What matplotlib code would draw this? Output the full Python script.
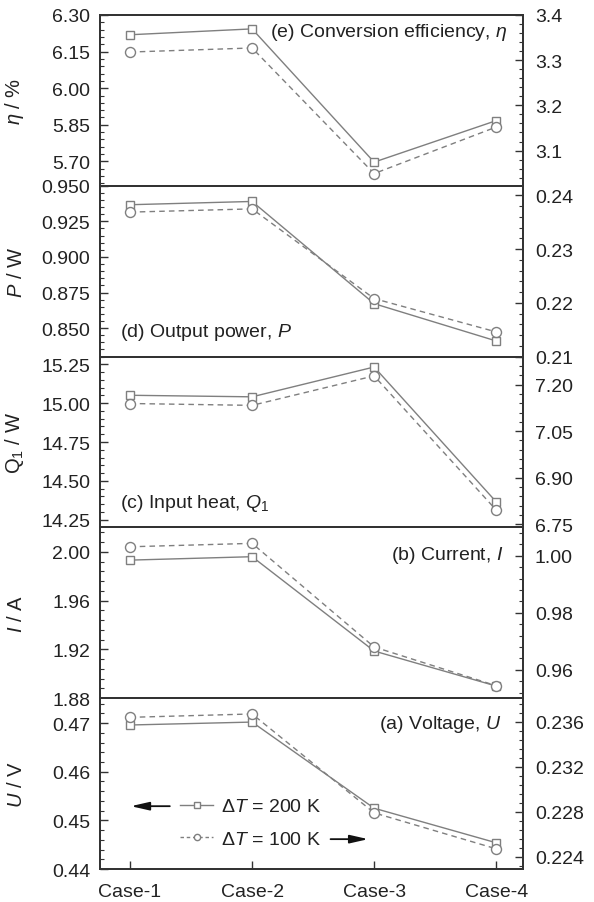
import numpy as np
import matplotlib
matplotlib.use("Agg")
import matplotlib.pyplot as plt
from matplotlib.ticker import MultipleLocator, AutoMinorLocator, FormatStrFormatter
from matplotlib.lines import Line2D

plt.rcParams['font.family'] = ['Liberation Sans', 'DejaVu Sans']
plt.rcParams['mathtext.fontset'] = 'custom'
plt.rcParams['mathtext.rm'] = 'Liberation Sans'
plt.rcParams['mathtext.it'] = 'Liberation Sans:italic'

cases = ["Case-1", "Case-2", "Case-3", "Case-4"]

# dT = 200 K (left axis) and dT = 100 K (right axis)
eta_200 = [6.219, 6.243, 5.697, 5.867]
eta_100 = [3.318, 3.327, 3.049, 3.152]
P_200 = [0.9367, 0.939, 0.8672, 0.841]
P_100 = [0.2369, 0.2375, 0.2208, 0.2146]
Q_200 = [15.051, 15.041, 15.233, 14.365]
Q_100 = [7.139, 7.133, 7.228, 6.796]
I_200 = [1.9932, 1.996, 1.9187, 1.890]
I_100 = [1.0032, 1.0044, 0.968, 0.9544]
U_200 = [0.4696, 0.4702, 0.4525, 0.4454]
U_100 = [0.2364, 0.2367, 0.2279, 0.2247]

panels = [
    dict(l=eta_200, r=eta_100, ylab=r"$\eta$ / %", ll=(5.6, 6.3), rl=(3.022, 3.4),
         lt=0.15, rt=0.1, lf="%.2f", rf="%.1f",
         txt=r"(e) Conversion efficiency, $\eta$", tx=0.962, ty=0.906, ha="right"),
    dict(l=P_200, r=P_100, ylab=r"$P$ / W", ll=(0.83, 0.95), rl=(0.21, 0.2418),
         lt=0.025, rt=0.01, lf="%.3f", rf="%.2f",
         txt=r"(d) Output power, $P$", tx=0.047, ty=0.146, ha="left"),
    dict(l=Q_200, r=Q_100, ylab=r"Q$_1$ / W", ll=(14.2, 15.3), rl=(6.74, 7.29),
         lt=0.25, rt=0.15, lf="%.2f", rf="%.2f",
         txt=r"(c) Input heat, $Q_1$", tx=0.047, ty=0.146, ha="left"),
    dict(l=I_200, r=I_100, ylab=r"$I$ / A", ll=(1.88, 2.02), rl=(0.95, 1.01),
         lt=0.04, rt=0.02, lf="%.2f", rf="%.2f",
         txt=r"(b) Current, $I$", tx=0.953, ty=0.842, ha="right"),
    dict(l=U_200, r=U_100, ylab=r"$U$ / V", ll=(0.44, 0.4751), rl=(0.2229, 0.2381),
         lt=0.01, rt=0.004, lf="%.2f", rf="%.3f",
         txt=r"(a) Voltage, $U$", tx=0.950, ty=0.854, ha="right"),
]

line_c = "#7f7f7f"
spine_c = "#333333"
txt_c = "#222222"
fs = 14

fig, axes = plt.subplots(5, 1, figsize=(5.94, 9.03), dpi=100, sharex=True,
                         gridspec_kw=dict(hspace=0))
fig.subplots_adjust(left=0.1684, right=0.8805, top=0.9823, bottom=0.0365)

x = np.arange(1, 5)

for ax, p in zip(axes, panels):
    ax2 = ax.twinx()
    ax.plot(x, p["l"], "-", color=line_c, lw=1.0, marker="s", ms=6.3,
            mfc="white", mec=line_c, mew=1.0, zorder=3)
    ax2.plot(x, p["r"], "--", color=line_c, lw=1.0, marker="o", ms=7.2,
             mfc="white", mec=line_c, mew=1.0, dashes=(4, 3), zorder=3)
    ax.set_ylim(*p["ll"])
    ax2.set_ylim(*p["rl"])
    ax.set_xlim(0.754, 4.22)
    for a, step, f, pad in ((ax, p["lt"], p["lf"], 7), (ax2, p["rt"], p["rf"], 8.5)):
        a.yaxis.set_major_locator(MultipleLocator(step))
        a.yaxis.set_minor_locator(AutoMinorLocator(5))
        a.yaxis.set_major_formatter(FormatStrFormatter(f))
        a.tick_params(axis="y", which="major", direction="in", length=6,
                      width=1.0, color=spine_c, labelsize=fs, labelcolor=txt_c, pad=pad)
        a.tick_params(axis="y", which="minor", direction="in", length=3,
                      width=0.8, color=spine_c)
        for s in a.spines.values():
            s.set_color(spine_c)
            s.set_linewidth(1.3)
    ax.set_ylabel(p["ylab"], fontsize=fs + 0.5, color=txt_c)
    ax.yaxis.set_label_coords(-0.175, 0.5)
    ax.text(p["tx"], p["ty"], p["txt"], transform=ax.transAxes, ha=p["ha"],
            va="center", fontsize=fs, color=txt_c)
    ax.tick_params(axis="x", which="both", bottom=False, top=False)

axb = axes[-1]
axb.set_xticks(x)
axb.set_xticklabels(cases)
axb.tick_params(axis="x", which="major", bottom=True, direction="in", length=6,
                width=1.0, color=spine_c, labelsize=fs, labelcolor=txt_c, pad=10)

h1 = Line2D([], [], ls="-", color=line_c, lw=1.0, marker="s", ms=4.5,
            mfc="white", mec=line_c)
h2 = Line2D([], [], ls="--", color=line_c, lw=1.0, marker="o", ms=4.5,
            mfc="white", mec=line_c, dashes=(2.5, 2))
leg = axb.legend([h1, h2], [r"$\Delta\mathit{T}$ = 200 K", r"$\Delta\mathit{T}$ = 100 K"],
                 loc="center left", bbox_to_anchor=(0.19, 0.2715), frameon=False,
                 borderpad=0, borderaxespad=0,
                 fontsize=fs, handlelength=1.7, handletextpad=0.4, labelspacing=0.75,
                 labelcolor=txt_c)

arrow_kw = dict(arrowstyle="-|>,head_length=1.1,head_width=0.25", color="#111111",
                lw=1.3, shrinkA=0, shrinkB=0)
axb.annotate("", xy=(0.073, 0.368), xytext=(0.165, 0.368),
             xycoords="axes fraction", arrowprops=arrow_kw)
axb.annotate("", xy=(0.634, 0.175), xytext=(0.545, 0.175),
             xycoords="axes fraction", arrowprops=arrow_kw)

fig.savefig("out.png", dpi=100)
